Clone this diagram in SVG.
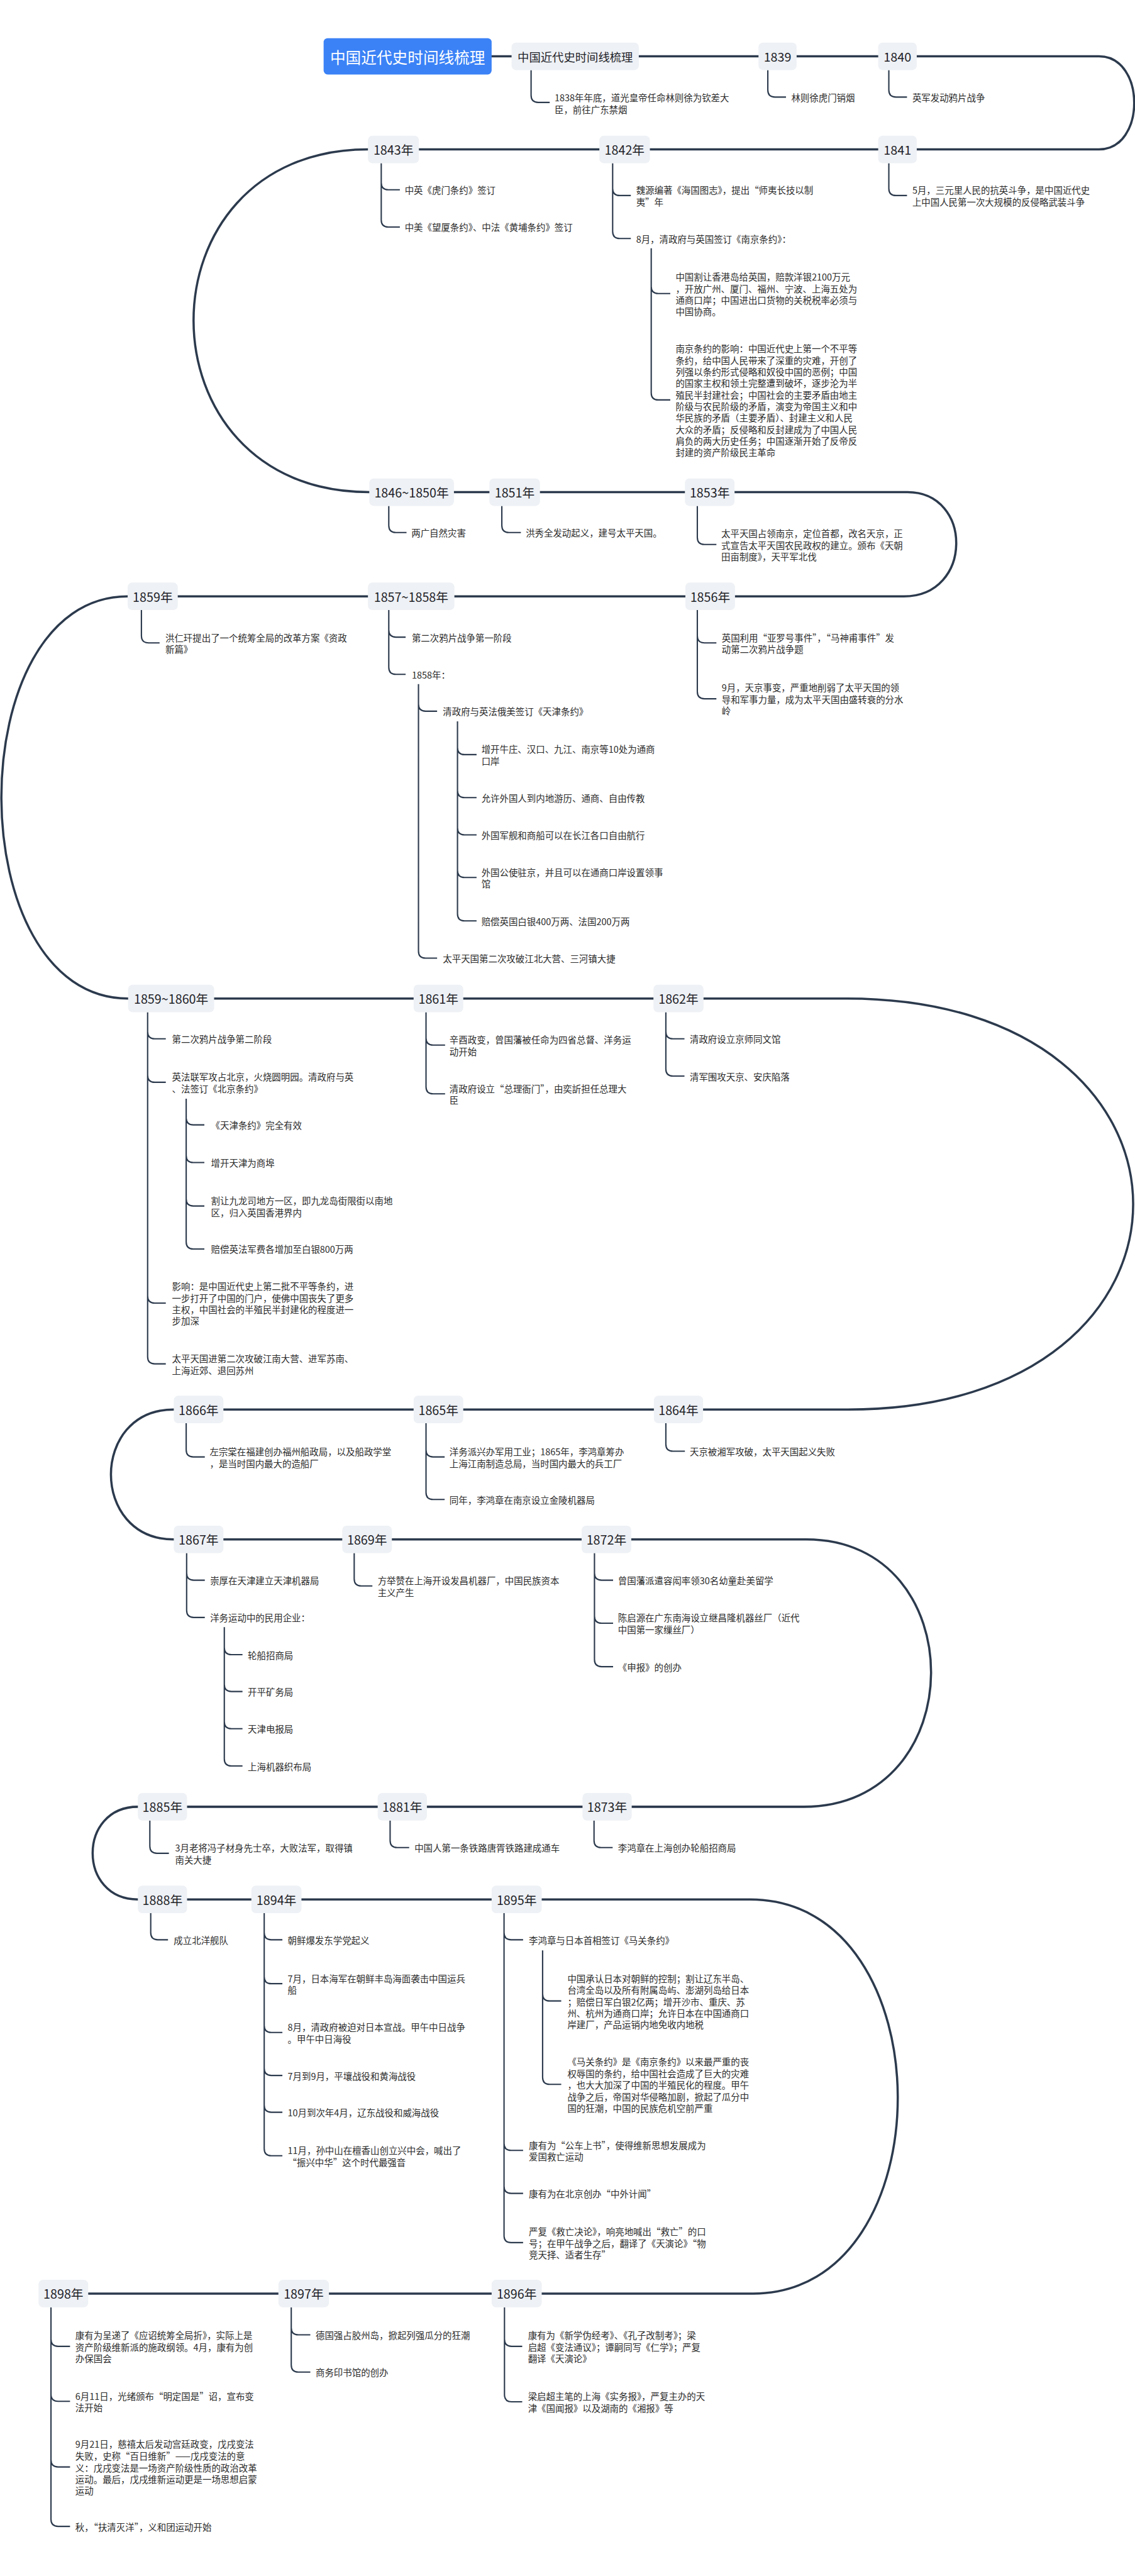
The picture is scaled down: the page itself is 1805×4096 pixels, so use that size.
<svg xmlns="http://www.w3.org/2000/svg" width="1805" height="4096" viewBox="0 0 1805 4096">
<style>
text{font-family:"Noto Sans CJK SC","Liberation Sans",sans-serif;dominant-baseline:central}
.yb{fill:#eef1f5}
.yt{font-size:28px;fill:#1f2329;text-anchor:middle}
.t{font-size:20.5px;fill:#2b2b2b}
.sp{fill:none;stroke:#2c3a4d;stroke-width:5;stroke-linecap:round}
.br{fill:none;stroke:#2c3a4d;stroke-width:3}
</style>
<rect width="1805" height="4096" fill="#ffffff"/>
<g transform="scale(0.705)">
<g id="connectors">
<path class="sp" d="M1109,127 H2479 C2585,127 2585,337 2479,337 H830 C305,337 305,1110 833,1110 H2047 C2195,1110 2195,1345 2039,1345 H288 C-92,1345 -92,2252 289,2252 H1910 C2771,2252 2771,3179 1913,3179 H392 C203,3179 203,3472 392,3472 H1819 C2195,3472 2195,4075 1813,4075 H311 C175,4075 175,4284 311,4284 H1692 C2135,4284 2135,5173 1699,5173 H199"/>
<path class="br" d="M1198,158V215Q1198,231 1214,231H1240 M1732,158V203Q1732,219 1748,219H1773 M2005,158V203Q2005,219 2021,219H2046"/>
<path class="br" d="M860,368V412Q860,428 876,428H902 M860,368V496Q860,512 876,512H902 M1382,368V425Q1382,441 1398,441H1423 M1382,368V522Q1382,538 1398,538H1423 M1469,560V646Q1469,662 1485,662H1512 M1469,560V886Q1469,902 1485,902H1512 M2005,368V425Q2005,441 2021,441H2046"/>
<path class="br" d="M877,1141V1185Q877,1201 893,1201H917 M1132,1141V1185Q1132,1201 1148,1201H1175 M1573,1141V1212Q1573,1228 1589,1228H1616"/>
<path class="br" d="M319,1376V1434Q319,1450 335,1450H360 M877,1376V1421Q877,1437 893,1437H915 M877,1376V1505Q877,1521 893,1521H915 M944,1543V1588Q944,1604 960,1604H986 M944,1543V2145Q944,2161 960,2161H986 M1032,1627V1686Q1032,1702 1048,1702H1075 M1032,1627V1783Q1032,1799 1048,1799H1075 M1032,1627V1867Q1032,1883 1048,1883H1075 M1032,1627V1963Q1032,1979 1048,1979H1075 M1032,1627V2061Q1032,2077 1048,2077H1075 M1573,1376V1434Q1573,1450 1589,1450H1616 M1573,1376V1560Q1573,1576 1589,1576H1616"/>
<path class="br" d="M333,2283V2327Q333,2343 349,2343H374 M333,2283V2425Q333,2441 349,2441H374 M420,2478V2521Q420,2537 436,2537H461 M420,2478V2606Q420,2622 436,2622H461 M420,2478V2704Q420,2720 436,2720H461 M420,2478V2801Q420,2817 436,2817H461 M333,2283V2923Q333,2939 349,2939H374 M333,2283V3060Q333,3076 349,3076H374 M961,2283V2341Q961,2357 977,2357H1004 M961,2283V2451Q961,2467 977,2467H1004 M1502,2283V2327Q1502,2343 1518,2343H1544 M1502,2283V2411Q1502,2427 1518,2427H1544"/>
<path class="br" d="M420,3210V3270Q420,3286 436,3286H462 M961,3210V3270Q961,3286 977,3286H1003 M961,3210V3366Q961,3382 977,3382H1003 M1502,3210V3257Q1502,3273 1518,3273H1545"/>
<path class="br" d="M421,3503V3548Q421,3564 437,3564H462 M421,3503V3632Q421,3648 437,3648H462 M506,3670V3716Q506,3732 522,3732H547 M506,3670V3799Q506,3815 522,3815H547 M506,3670V3883Q506,3899 522,3899H547 M506,3670V3967Q506,3983 522,3983H547 M799,3503V3561Q799,3577 815,3577H840 M1341,3503V3548Q1341,3564 1357,3564H1383 M1341,3503V3645Q1341,3661 1357,3661H1383 M1341,3503V3743Q1341,3759 1357,3759H1383"/>
<path class="br" d="M338,4106V4164Q338,4180 354,4180H381 M880,4106V4151Q880,4167 896,4167H923 M1340,4106V4151Q1340,4167 1356,4167H1382"/>
<path class="br" d="M340,4315V4359Q340,4375 356,4375H379 M596,4315V4359Q596,4375 612,4375H637 M596,4315V4458Q596,4474 612,4474H637 M596,4315V4568Q596,4584 612,4584H637 M596,4315V4665Q596,4681 612,4681H637 M596,4315V4748Q596,4764 612,4764H637 M596,4315V4846Q596,4862 612,4862H637 M1137,4315V4359Q1137,4375 1153,4375H1180 M1224,4399V4497Q1224,4513 1240,4513H1266 M1224,4399V4685Q1224,4701 1240,4701H1266 M1137,4315V4834Q1137,4850 1153,4850H1180 M1137,4315V4931Q1137,4947 1153,4947H1180 M1137,4315V5042Q1137,5058 1153,5058H1180"/>
<path class="br" d="M115,5204V5276Q115,5292 131,5292H158 M115,5204V5400Q115,5416 131,5416H158 M115,5204V5548Q115,5564 131,5564H158 M115,5204V5682Q115,5698 131,5698H158 M657,5204V5250Q657,5266 673,5266H700 M657,5204V5334Q657,5350 673,5350H700 M1138,5204V5276Q1138,5292 1154,5292H1178 M1138,5204V5401Q1138,5417 1154,5417H1178"/>
</g>

<g id="root"><rect x="730" y="86" width="379" height="82" rx="9" fill="#3b82f6"/><text x="919.5" y="127" font-size="35" fill="#ffffff" text-anchor="middle">中国近代史时间线梳理</text></g>

<g id="n-main"><rect class="yb" x="1154" y="96" width="287" height="62" rx="10"/><text x="1297.5" y="127" font-size="26" fill="#1f2329" text-anchor="middle">中国近代史时间线梳理</text>
<text class="t" x="1251" y="219">1838年年底，道光皇帝任命林则徐为钦差大<tspan x="1251" y="245">臣，前往广东禁烟</tspan></text></g>
<g id="n-1839"><rect class="yb" x="1711" y="96" width="86" height="62" rx="10"/><text class="yt" x="1754" y="127">1839</text><text class="t" x="1785" y="219">林则徐虎门销烟</text></g>
<g id="n-1840"><rect class="yb" x="1981" y="96" width="87" height="62" rx="10"/><text class="yt" x="2024.5" y="127">1840</text><text class="t" x="2058" y="219">英军发动鸦片战争</text></g>

<g id="n-1843"><rect class="yb" x="830" y="306" width="115" height="62" rx="10"/><text class="yt" x="887.5" y="337">1843年</text>
<text class="t" x="913" y="428">中英《虎门条约》签订</text><text class="t" x="913" y="512">中美《望厦条约》、中法《黄埔条约》签订</text></g>
<g id="n-1842"><rect class="yb" x="1352" y="306" width="114" height="62" rx="10"/><text class="yt" x="1409" y="337">1842年</text>
<text class="t" x="1435" y="428">魏源编著《海国图志》，提出“师夷长技以制<tspan x="1435" y="454">夷”年</tspan></text>
<text class="t" x="1435" y="538">8月，清政府与英国签订《南京条约》：</text>
<text class="t" x="1524" y="623">中国割让香港岛给英国，赔款洋银2100万元<tspan x="1524" y="649">，开放广州、厦门、福州、宁波、上海五处为</tspan><tspan x="1524" y="675">通商口岸；中国进出口货物的关税税率必须与</tspan><tspan x="1524" y="701">中国协商。</tspan></text>
<text class="t" x="1524" y="785">南京条约的影响：中国近代史上第一个不平等<tspan x="1524" y="811">条约，给中国人民带来了深重的灾难，开创了</tspan><tspan x="1524" y="837">列强以条约形式侵略和奴役中国的恶例；中国</tspan><tspan x="1524" y="863">的国家主权和领土完整遭到破坏，逐步沦为半</tspan><tspan x="1524" y="889">殖民半封建社会；中国社会的主要矛盾由地主</tspan><tspan x="1524" y="915">阶级与农民阶级的矛盾，演变为帝国主义和中</tspan><tspan x="1524" y="941">华民族的矛盾（主要矛盾）、封建主义和人民</tspan><tspan x="1524" y="967">大众的矛盾；反侵略和反封建成为了中国人民</tspan><tspan x="1524" y="993">肩负的两大历史任务；中国逐渐开始了反帝反</tspan><tspan x="1524" y="1019">封建的资产阶级民主革命</tspan></text></g>
<g id="n-1841"><rect class="yb" x="1981" y="306" width="87" height="62" rx="10"/><text class="yt" x="2024.5" y="337">1841</text>
<text class="t" x="2058" y="428">5月，三元里人民的抗英斗争，是中国近代史<tspan x="2058" y="454">上中国人民第一次大规模的反侵略武装斗争</tspan></text></g>

<g id="n-1846"><rect class="yb" x="833" y="1079" width="191" height="62" rx="10"/><text class="yt" x="928.5" y="1110">1846~1850年</text><text class="t" x="928" y="1201">两广自然灾害</text></g>
<g id="n-1851"><rect class="yb" x="1104" y="1079" width="114" height="62" rx="10"/><text class="yt" x="1161" y="1110">1851年</text><text class="t" x="1186" y="1201">洪秀全发动起义，建号太平天国。</text></g>
<g id="n-1853"><rect class="yb" x="1545" y="1079" width="112" height="62" rx="10"/><text class="yt" x="1601" y="1110">1853年</text>
<text class="t" x="1627" y="1202">太平天国占领南京，定位首都，改名天京，正<tspan x="1627" y="1228">式宣告太平天国农民政权的建立。颁布《天朝</tspan><tspan x="1627" y="1254">田亩制度》，天平军北伐</tspan></text></g>

<g id="n-1859"><rect class="yb" x="288" y="1314" width="113" height="62" rx="10"/><text class="yt" x="344.5" y="1345">1859年</text>
<text class="t" x="373" y="1437">洪仁玕提出了一个统筹全局的改革方案《资政<tspan x="373" y="1463">新篇》</tspan></text></g>
<g id="n-1857"><rect class="yb" x="830" y="1314" width="195" height="62" rx="10"/><text class="yt" x="927.5" y="1345">1857~1858年</text>
<text class="t" x="929" y="1437">第二次鸦片战争第一阶段</text><text class="t" x="929" y="1521">1858年：</text>
<text class="t" x="999" y="1604">清政府与英法俄美签订《天津条约》</text>
<text class="t" x="1086" y="1689">增开牛庄、汉口、九江、南京等10处为通商<tspan x="1086" y="1715">口岸</tspan></text>
<text class="t" x="1086" y="1799">允许外国人到内地游历、通商、自由传教</text>
<text class="t" x="1086" y="1883">外国军舰和商船可以在长江各口自由航行</text>
<text class="t" x="1086" y="1966">外国公使驻京，并且可以在通商口岸设置领事<tspan x="1086" y="1992">馆</tspan></text>
<text class="t" x="1086" y="2077">赔偿英国白银400万两、法国200万两</text>
<text class="t" x="999" y="2161">太平天国第二次攻破江北大营、三河镇大捷</text></g>
<g id="n-1856"><rect class="yb" x="1546" y="1314" width="112" height="62" rx="10"/><text class="yt" x="1602" y="1345">1856年</text>
<text class="t" x="1628" y="1437">英国利用“亚罗号事件”，“马神甫事件”发<tspan x="1628" y="1463">动第二次鸦片战争题</tspan></text>
<text class="t" x="1628" y="1550">9月，天京事变，严重地削弱了太平天国的领<tspan x="1628" y="1576">导和军事力量，成为太平天国由盛转衰的分水</tspan><tspan x="1628" y="1602">岭</tspan></text></g>

<g id="n-1859-1860"><rect class="yb" x="289" y="2221" width="194" height="62" rx="10"/><text class="yt" x="386" y="2252">1859~1860年</text>
<text class="t" x="388" y="2343">第二次鸦片战争第二阶段</text>
<text class="t" x="388" y="2428">英法联军攻占北京，火烧圆明园。清政府与英<tspan x="388" y="2454">、法签订《北京条约》</tspan></text>
<text class="t" x="476" y="2537">《天津条约》完全有效</text>
<text class="t" x="476" y="2622">增开天津为商埠</text>
<text class="t" x="476" y="2707">割让九龙司地方一区，即九龙岛街限街以南地<tspan x="476" y="2733">区，归入英国香港界内</tspan></text>
<text class="t" x="476" y="2817">赔偿英法军费各增加至白银800万两</text>
<text class="t" x="388" y="2900">影响：是中国近代史上第二批不平等条约，进<tspan x="388" y="2926">一步打开了中国的门户，使佛中国丧失了更多</tspan><tspan x="388" y="2952">主权，中国社会的半殖民半封建化的程度进一</tspan><tspan x="388" y="2978">步加深</tspan></text>
<text class="t" x="388" y="3063">太平天国进第二次攻破江南大营、进军苏南、<tspan x="388" y="3089">上海近郊、退回苏州</tspan></text></g>
<g id="n-1861"><rect class="yb" x="933" y="2221" width="112" height="62" rx="10"/><text class="yt" x="989" y="2252">1861年</text>
<text class="t" x="1014" y="2344">辛酉政变，曾国藩被任命为四省总督、洋务运<tspan x="1014" y="2370">动开始</tspan></text>
<text class="t" x="1014" y="2454">清政府设立“总理衙门”，由奕訢担任总理大<tspan x="1014" y="2480">臣</tspan></text></g>
<g id="n-1862"><rect class="yb" x="1474" y="2221" width="113" height="62" rx="10"/><text class="yt" x="1530.5" y="2252">1862年</text>
<text class="t" x="1556" y="2343">清政府设立京师同文馆</text><text class="t" x="1556" y="2427">清军围攻天京、安庆陷落</text></g>

<g id="n-1866"><rect class="yb" x="392" y="3148" width="112" height="62" rx="10"/><text class="yt" x="448" y="3179">1866年</text>
<text class="t" x="473" y="3273">左宗棠在福建创办福州船政局，以及船政学堂<tspan x="473" y="3299">，是当时国内最大的造船厂</tspan></text></g>
<g id="n-1865"><rect class="yb" x="933" y="3148" width="112" height="62" rx="10"/><text class="yt" x="989" y="3179">1865年</text>
<text class="t" x="1014" y="3273">洋务派兴办军用工业；1865年，李鸿章筹办<tspan x="1014" y="3299">上海江南制造总局，当时国内最大的兵工厂</tspan></text>
<text class="t" x="1014" y="3382">同年，李鸿章在南京设立金陵机器局</text></g>
<g id="n-1864"><rect class="yb" x="1475" y="3148" width="111" height="62" rx="10"/><text class="yt" x="1530.5" y="3179">1864年</text>
<text class="t" x="1556" y="3273">天京被湘军攻破，太平天国起义失败</text></g>

<g id="n-1867"><rect class="yb" x="392" y="3441" width="112" height="62" rx="10"/><text class="yt" x="448" y="3472">1867年</text>
<text class="t" x="474" y="3564">崇厚在天津建立天津机器局</text><text class="t" x="474" y="3648">洋务运动中的民用企业：</text>
<text class="t" x="559" y="3732">轮船招商局</text><text class="t" x="559" y="3815">开平矿务局</text><text class="t" x="559" y="3899">天津电报局</text><text class="t" x="559" y="3983">上海机器织布局</text></g>
<g id="n-1869"><rect class="yb" x="772" y="3441" width="112" height="62" rx="10"/><text class="yt" x="828" y="3472">1869年</text>
<text class="t" x="852" y="3564">方举赞在上海开设发昌机器厂，中国民族资本<tspan x="852" y="3590">主义产生</tspan></text></g>
<g id="n-1872"><rect class="yb" x="1312" y="3441" width="112" height="62" rx="10"/><text class="yt" x="1368" y="3472">1872年</text>
<text class="t" x="1394" y="3564">曾国藩派遣容闳率领30名幼童赴美留学</text>
<text class="t" x="1394" y="3648">陈启源在广东南海设立继昌隆机器丝厂（近代<tspan x="1394" y="3674">中国第一家缫丝厂）</tspan></text>
<text class="t" x="1394" y="3759">《申报》的创办</text></g>

<g id="n-1885"><rect class="yb" x="311" y="4044" width="111" height="62" rx="10"/><text class="yt" x="366.5" y="4075">1885年</text>
<text class="t" x="395" y="4167">3月老将冯子材身先士卒，大败法军，取得镇<tspan x="395" y="4193">南关大捷</tspan></text></g>
<g id="n-1881"><rect class="yb" x="852" y="4044" width="111" height="62" rx="10"/><text class="yt" x="907.5" y="4075">1881年</text>
<text class="t" x="935" y="4167">中国人第一条铁路唐胥铁路建成通车</text></g>
<g id="n-1873"><rect class="yb" x="1314" y="4044" width="111" height="62" rx="10"/><text class="yt" x="1369.5" y="4075">1873年</text>
<text class="t" x="1394" y="4167">李鸿章在上海创办轮船招商局</text></g>

<g id="n-1888"><rect class="yb" x="311" y="4253" width="111" height="62" rx="10"/><text class="yt" x="366.5" y="4284">1888年</text>
<text class="t" x="392" y="4375">成立北洋舰队</text></g>
<g id="n-1894"><rect class="yb" x="567" y="4253" width="113" height="62" rx="10"/><text class="yt" x="623.5" y="4284">1894年</text>
<text class="t" x="649" y="4375">朝鲜爆发东学党起义</text>
<text class="t" x="649" y="4461">7月，日本海军在朝鲜丰岛海面袭击中国运兵<tspan x="649" y="4487">船</tspan></text>
<text class="t" x="649" y="4571">8月，清政府被迫对日本宣战。甲午中日战争<tspan x="649" y="4597">。甲午中日海役</tspan></text>
<text class="t" x="649" y="4681">7月到9月，平壤战役和黄海战役</text>
<text class="t" x="649" y="4764">10月到次年4月，辽东战役和威海战役</text>
<text class="t" x="649" y="4849">11月，孙中山在檀香山创立兴中会，喊出了<tspan x="649" y="4875">“振兴中华”这个时代最强音</tspan></text></g>
<g id="n-1895"><rect class="yb" x="1109" y="4253" width="113" height="62" rx="10"/><text class="yt" x="1165.5" y="4284">1895年</text>
<text class="t" x="1193" y="4375">李鸿章与日本首相签订《马关条约》</text>
<text class="t" x="1280" y="4461">中国承认日本对朝鲜的控制；割让辽东半岛、<tspan x="1280" y="4487">台湾全岛以及所有附属岛屿、澎湖列岛给日本</tspan><tspan x="1280" y="4513">；赔偿日军白银2亿两；增开沙市、重庆、苏</tspan><tspan x="1280" y="4539">州、杭州为通商口岸；允许日本在中国通商口</tspan><tspan x="1280" y="4565">岸建厂，产品运销内地免收内地税</tspan></text>
<text class="t" x="1280" y="4649">《马关条约》是《南京条约》以来最严重的丧<tspan x="1280" y="4675">权辱国的条约，给中国社会造成了巨大的灾难</tspan><tspan x="1280" y="4701">，也大大加深了中国的半殖民化的程度。甲午</tspan><tspan x="1280" y="4727">战争之后，帝国对华侵略加剧，掀起了瓜分中</tspan><tspan x="1280" y="4753">国的狂潮，中国的民族危机空前严重</tspan></text>
<text class="t" x="1193" y="4837">康有为“公车上书”，使得维新思想发展成为<tspan x="1193" y="4863">爱国救亡运动</tspan></text>
<text class="t" x="1193" y="4947">康有为在北京创办“中外计闻”</text>
<text class="t" x="1193" y="5032">严复《救亡决论》，响亮地喊出“救亡”的口<tspan x="1193" y="5058">号；在甲午战争之后，翻译了《天演论》“物</tspan><tspan x="1193" y="5084">竞天择、适者生存”</tspan></text></g>

<g id="n-1898"><rect class="yb" x="87" y="5142" width="112" height="62" rx="10"/><text class="yt" x="143" y="5173">1898年</text>
<text class="t" x="170" y="5266">康有为呈递了《应诏统筹全局折》，实际上是<tspan x="170" y="5292">资产阶级维新派的施政纲领。4月，康有为创</tspan><tspan x="170" y="5318">办保国会</tspan></text>
<text class="t" x="170" y="5403">6月11日，光绪颁布“明定国是”诏，宣布变<tspan x="170" y="5429">法开始</tspan></text>
<text class="t" x="170" y="5512">9月21日，慈禧太后发动宫廷政变，戊戌变法<tspan x="170" y="5538">失败，史称“百日维新”——戊戌变法的意</tspan><tspan x="170" y="5564">义：戊戌变法是一场资产阶级性质的政治改革</tspan><tspan x="170" y="5590">运动。最后，戊戌维新运动更是一场思想启蒙</tspan><tspan x="170" y="5616">运动</tspan></text>
<text class="t" x="170" y="5698">秋，“扶清灭洋”，义和团运动开始</text></g>
<g id="n-1897"><rect class="yb" x="628" y="5142" width="114" height="62" rx="10"/><text class="yt" x="685" y="5173">1897年</text>
<text class="t" x="712" y="5266">德国强占胶州岛，掀起列强瓜分的狂潮</text>
<text class="t" x="712" y="5350">商务印书馆的创办</text></g>
<g id="n-1896"><rect class="yb" x="1109" y="5142" width="113" height="62" rx="10"/><text class="yt" x="1165.5" y="5173">1896年</text>
<text class="t" x="1191" y="5266">康有为《新学伪经考》、《孔子改制考》；梁<tspan x="1191" y="5292">启超《变法通议》；谭嗣同写《仁学》；严复</tspan><tspan x="1191" y="5318">翻译《天演论》</tspan></text>
<text class="t" x="1191" y="5404">梁启超主笔的上海《实务报》，严复主办的天<tspan x="1191" y="5430">津《国闻报》以及湖南的《湘报》等</tspan></text></g>
</g>
</svg>
